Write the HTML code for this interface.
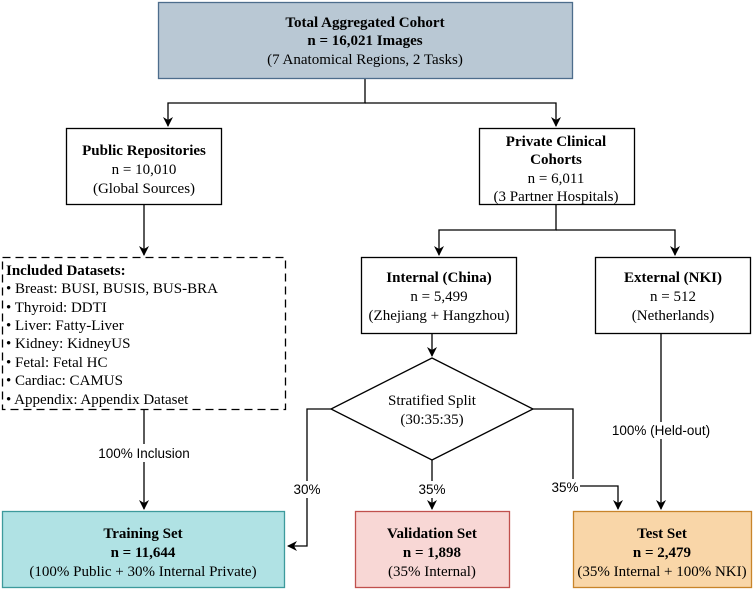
<!DOCTYPE html>
<html><head><style>
body{margin:0;background:#fff;width:753px;height:589px;overflow:hidden}
svg text{font-family:"Liberation Serif",serif;font-size:15px;fill:#000}
.b{font-weight:bold}
.s{font-family:"Liberation Sans",sans-serif;font-size:13.5px}
</style></head><body>
<svg width="753" height="589" viewBox="0 0 753 589" xmlns="http://www.w3.org/2000/svg">
<defs><marker id="a" markerWidth="10" markerHeight="10" refX="9" refY="5" orient="auto" markerUnits="userSpaceOnUse"><path d="M0,0 L10,5 L0,10 L3,5z" fill="#000"/></marker></defs>
<g fill="none" stroke="#000" stroke-width="1.3">
<path d="M365,78V103H168V126" marker-end="url(#a)"/>
<path d="M365,103H556V126" marker-end="url(#a)"/>
<path d="M144,205V255" marker-end="url(#a)"/>
<path d="M556,205V230H439V255" marker-end="url(#a)"/>
<path d="M556,230H675V255" marker-end="url(#a)"/>
<path d="M432,333V356" marker-end="url(#a)"/>
<path d="M144,409V509" marker-end="url(#a)"/>
<path d="M331,409H307V546H288" marker-end="url(#a)"/>
<path d="M432,460V509" marker-end="url(#a)"/>
<path d="M533,409H573V486H618V509" marker-end="url(#a)"/>
<path d="M661,333V509" marker-end="url(#a)"/>
<path d="M432,358L533,409L432,460L331,409Z" fill="#fff"/>
</g>
<rect x="158.5" y="2.5" width="414" height="76" fill="#b9c8d4" stroke="#4d6d8c" stroke-width="1.3"/>
<rect x="66.5" y="128.5" width="155" height="76" fill="#fff" stroke="#000" stroke-width="1.3"/>
<rect x="479.5" y="128.5" width="155" height="76" fill="#fff" stroke="#000" stroke-width="1.3"/>
<rect x="2.5" y="257.5" width="283" height="152" fill="#fff" stroke="#000" stroke-width="1.3" stroke-dasharray="8,5"/>
<rect x="361.5" y="257.5" width="155" height="76" fill="#fff" stroke="#000" stroke-width="1.3"/>
<rect x="595.5" y="257.5" width="155" height="76" fill="#fff" stroke="#000" stroke-width="1.3"/>
<rect x="2.5" y="511.5" width="282" height="76" fill="#b0e2e4" stroke="#3d9a9c" stroke-width="1.3"/>
<rect x="355.5" y="511.5" width="154" height="76" fill="#f8d7d5" stroke="#c0504d" stroke-width="1.3"/>
<rect x="573.5" y="511.5" width="178" height="76" fill="#f9d6a8" stroke="#c8842a" stroke-width="1.3"/>
<g text-anchor="middle">
<text x="365" y="27" class="b">Total Aggregated Cohort</text>
<text x="365" y="45" class="b">n = 16,021 Images</text>
<text x="365" y="64">(7 Anatomical Regions, 2 Tasks)</text>
<text x="144" y="155" class="b">Public Repositories</text>
<text x="144" y="174">n = 10,010</text>
<text x="144" y="193">(Global Sources)</text>
<text x="556" y="146" class="b">Private Clinical</text>
<text x="556" y="164" class="b">Cohorts</text>
<text x="556" y="183">n = 6,011</text>
<text x="556" y="201">(3 Partner Hospitals)</text>
<text x="439" y="282" class="b">Internal (China)</text>
<text x="439" y="301">n = 5,499</text>
<text x="439" y="320">(Zhejiang + Hangzhou)</text>
<text x="673" y="282" class="b">External (NKI)</text>
<text x="673" y="301">n = 512</text>
<text x="673" y="320">(Netherlands)</text>
<text x="432" y="405">Stratified Split</text>
<text x="432" y="424">(30:35:35)</text>
<text x="143" y="538" class="b">Training Set</text>
<text x="143" y="557" class="b">n = 11,644</text>
<text x="143" y="576">(100% Public + 30% Internal Private)</text>
<text x="432" y="538" class="b">Validation Set</text>
<text x="432" y="557" class="b">n = 1,898</text>
<text x="432" y="576">(35% Internal)</text>
<text x="662" y="538" class="b">Test Set</text>
<text x="662" y="557" class="b">n = 2,479</text>
<text x="662" y="576">(35% Internal + 100% NKI)</text>
</g>
<text x="6" y="275" class="b">Included Datasets:</text>
<text x="6" y="293">• Breast: BUSI, BUSIS, BUS-BRA</text>
<text x="6" y="312">• Thyroid: DDTI</text>
<text x="6" y="330">• Liver: Fatty-Liver</text>
<text x="6" y="348">• Kidney: KidneyUS</text>
<text x="6" y="367">• Fetal: Fetal HC</text>
<text x="6" y="385">• Cardiac: CAMUS</text>
<text x="6" y="404">• Appendix: Appendix Dataset</text>
<g text-anchor="middle">
<rect x="90" y="444" width="108" height="18" fill="#fff"/>
<text x="144" y="458" class="s">100% Inclusion</text>
<rect x="291" y="481" width="32" height="17" fill="#fff"/>
<text x="307" y="494" class="s">30%</text>
<rect x="416" y="481" width="32" height="17" fill="#fff"/>
<text x="432" y="494" class="s">35%</text>
<rect x="550" y="479" width="30" height="17" fill="#fff"/>
<text x="565" y="492" class="s">35%</text>
<rect x="609" y="422" width="104" height="17" fill="#fff"/>
<text x="661" y="435" class="s">100% (Held-out)</text>
</g>
</svg>
</body></html>
